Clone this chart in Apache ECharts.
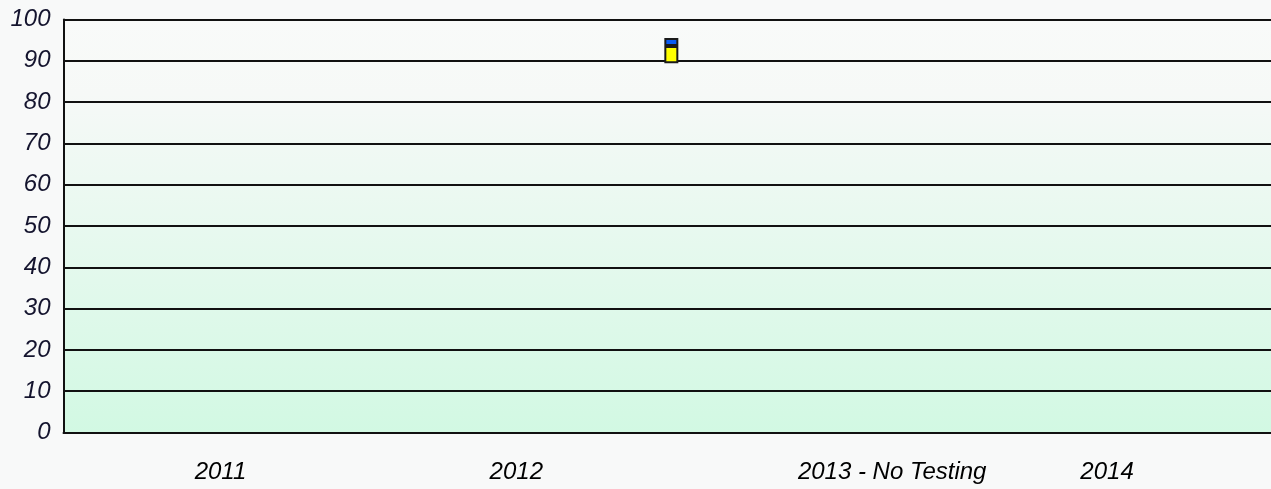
<!DOCTYPE html>
<html>
<head>
<meta charset="utf-8">
<script src="https://cdn.jsdelivr.net/npm/echarts@6/dist/echarts.min.js"></script>
<style>
    html, body { margin: 0; padding: 0; background: #f8f9f9; }
    #chart { width: 1271px; height: 489px; }
</style>
</head>
<body>
<div id="chart"></div>
<script>
    // year labels under the plot
    var categories = ['2011', '2012', '2013 - No Testing', '2014'];
    // shift of each label, px (the source puts them a bit off centre)
    var labelShift = [6, 0, 74, -13];

    // the single floating bar sits on a fine hidden slot axis
    var slotCount = 148;
    var barSlot = 74;
    var baseValues = [89.4];
    var yellowValues = [4.2];
    var blueValues = [1.9];

    var yMin = 0, yMax = 100, yStep = 10;

    var slots = [];
    for (var s = 0; s < slotCount; s++) slots.push('s' + s);

    function onSlot(vals) {
        var out = slots.map(function () { return null; });
        out[barSlot] = vals[0];
        return out;
    }

    var rich = {};
    labelShift.forEach(function (s, i) {
        rich['l' + i] = {
            fontFamily: 'Liberation Sans',
            fontStyle: 'italic',
            fontSize: 24,
            color: '#000',
            padding: s >= 0 ? [0, 0, 0, s * 2] : [0, -s * 2, 0, 0]
        };
    });

    var chart = echarts.init(document.getElementById('chart'));
    chart.setOption({
        backgroundColor: '#f8f9f9',
        animation: false,
        grid: {
            left: 63.5, right: 0, top: 19.5, bottom: 56.5,
            show: true,
            borderWidth: 0,
            backgroundColor: new echarts.graphic.LinearGradient(0, 0, 0, 1, [
                {offset: 0, color: '#f9faf9'},
                {offset: 0.18, color: '#f6f9f7'},
                {offset: 1, color: '#d2f9e3'}
            ])
        },
        xAxis: [
            {
                type: 'category',
                data: categories,
                boundaryGap: true,
                axisLine: {lineStyle: {color: '#111', width: 2}},
                axisTick: {show: false},
                splitLine: {show: false},
                axisLabel: {
                    interval: 0,
                    margin: 28,
                    formatter: function (v, i) { return '{l' + i + '|' + v + '}'; },
                    rich: rich
                }
            },
            {
                type: 'category',
                data: slots,
                show: false
            }
        ],
        yAxis: {
            type: 'value',
            min: yMin,
            max: yMax,
            interval: yStep,
            axisLine: {show: true, lineStyle: {color: '#111', width: 2}},
            axisTick: {show: false},
            splitLine: {lineStyle: {color: '#111', width: 2}},
            axisLabel: {
                margin: 13,
                fontFamily: 'Liberation Sans',
                fontStyle: 'italic',
                fontSize: 24,
                color: '#14142e'
            }
        },
        series: [
            {
                type: 'bar',
                xAxisIndex: 1,
                stack: 'score',
                barWidth: 14,
                data: onSlot(baseValues),
                itemStyle: {color: 'rgba(0,0,0,0)'},
                silent: true
            },
            {
                type: 'bar',
                xAxisIndex: 1,
                stack: 'score',
                barWidth: 14,
                data: onSlot(yellowValues),
                itemStyle: {color: '#ffff00', borderColor: '#1a1a1a', borderWidth: 2}
            },
            {
                type: 'bar',
                xAxisIndex: 1,
                stack: 'score',
                barWidth: 14,
                data: onSlot(blueValues),
                itemStyle: {color: '#0a5cf5', borderColor: '#1a1a1a', borderWidth: 2}
            }
        ]
    });
</script>
</body>
</html>
